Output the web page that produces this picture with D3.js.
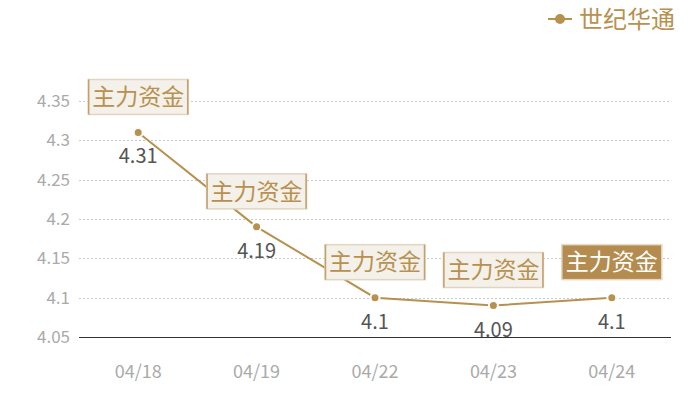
<!DOCTYPE html>
<html><head><meta charset="utf-8">
<script src="https://cdn.jsdelivr.net/npm/d3@7"></script>
<style>body{margin:0;background:#fff}svg{display:block}</style>
</head><body>
<svg id="c" width="700" height="400"></svg>
<script>
const categories = ["04/18","04/19","04/22","04/23","04/24"];
const values = [4.31, 4.19, 4.1, 4.09, 4.1];
const yTicks = [4.05, 4.1, 4.15, 4.2, 4.25, 4.3, 4.35];
const seriesName = "世纪华通";
const markLabel = "主力资金";
const highlighted = [false, false, false, false, true];

const gold = "#b8914f";
const font = "'Noto Sans CJK SC','Noto Sans',sans-serif";
const svg = d3.select("#c");
const m = {l:79, r:671, t:101, b:337};
const x = d3.scaleBand().domain(categories).range([m.l, m.r]);
const y = d3.scaleLinear().domain([4.05, 4.35]).range([m.b, m.t]);
const cx = d => x(d) + x.bandwidth()/2;

// grid
svg.append("g").selectAll("line").data(yTicks.slice(1)).join("line")
  .attr("x1", m.l).attr("x2", m.r)
  .attr("y1", d => Math.round(y(d)) + 0.5).attr("y2", d => Math.round(y(d)) + 0.5)
  .attr("stroke", "#c8c8c8").attr("stroke-dasharray", "2,2").attr("stroke-width", 1);

// y labels
svg.append("g").selectAll("text").data(yTicks).join("text")
  .attr("x", 70).attr("y", d => y(d)).attr("dy", "0.35em")
  .attr("text-anchor", "end").attr("fill", "#aaaaaa")
  .attr("font-family", font).attr("font-size", 17)
  .text(d => d3.format("")(d));

// x axis line
svg.append("line").attr("x1", m.l).attr("x2", m.r).attr("y1", m.b + 0.5).attr("y2", m.b + 0.5)
  .attr("stroke", "#333").attr("stroke-width", 1).attr("shape-rendering", "crispEdges");

// x labels
svg.append("g").selectAll("text").data(categories).join("text")
  .attr("x", d => cx(d)).attr("y", 372).attr("dy", "0.35em")
  .attr("text-anchor", "middle").attr("fill", "#aaaaaa")
  .attr("font-family", font).attr("font-size", 18)
  .text(d => d);

const pts = categories.map((c, i) => ({c, v: values[i], h: highlighted[i]}));

// line
svg.append("path").datum(pts)
  .attr("d", d3.line().x(d => cx(d.c)).y(d => y(d.v)))
  .attr("fill", "none").attr("stroke", gold).attr("stroke-width", 2);

// dots
svg.append("g").selectAll("circle").data(pts).join("circle")
  .attr("cx", d => cx(d.c)).attr("cy", d => y(d.v)).attr("r", 4.5)
  .attr("fill", gold).attr("stroke", "#fff").attr("stroke-width", 2);

// value labels
svg.append("g").selectAll("text").data(pts).join("text")
  .attr("x", d => cx(d.c)).attr("y", d => y(d.v) + 24).attr("dy", "0.35em")
  .attr("text-anchor", "middle").attr("fill", "#555")
  .attr("font-family", font).attr("font-size", 20)
  .text(d => d.v);

// annotation boxes
const bw = 100, bh = 35;
const g = svg.append("g").selectAll("g").data(pts).join("g")
  .attr("transform", d => `translate(${cx(d.c) - bw/2},${y(d.v) - 18 - bh})`);
g.append("rect").attr("width", bw).attr("height", bh)
  .attr("fill", d => d.h ? "#b48c4f" : "#f4f0ea")
  .attr("stroke", d => d.h ? "#e6d8c2" : "#e2d5c0").attr("stroke-width", 1.5);
g.filter(d => !d.h).append("line").attr("x1", 0.5).attr("x2", 0.5).attr("y1", 0).attr("y2", bh)
  .attr("stroke", "#c4a06a").attr("stroke-width", 1.5);
g.filter(d => !d.h).append("line").attr("x1", bw-0.5).attr("x2", bw-0.5).attr("y1", 0).attr("y2", bh)
  .attr("stroke", "#c4a06a").attr("stroke-width", 1.5);
g.append("text").attr("x", bw/2).attr("y", bh/2).attr("dy", "0.36em")
  .attr("text-anchor", "middle").attr("fill", d => d.h ? "#fff" : gold)
  .attr("font-family", font).attr("font-size", 23)
  .text(markLabel);

// legend
const lg = svg.append("g");
lg.append("line").attr("x1", 548).attr("x2", 572).attr("y1", 19).attr("y2", 19)
  .attr("stroke", gold).attr("stroke-width", 2);
lg.append("circle").attr("cx", 560).attr("cy", 19).attr("r", 5).attr("fill", gold);
lg.append("text").attr("x", 579).attr("y", 19).attr("dy", "0.36em")
  .attr("fill", gold).attr("font-family", font).attr("font-size", 24)
  .text(seriesName);
</script>
</body></html>
